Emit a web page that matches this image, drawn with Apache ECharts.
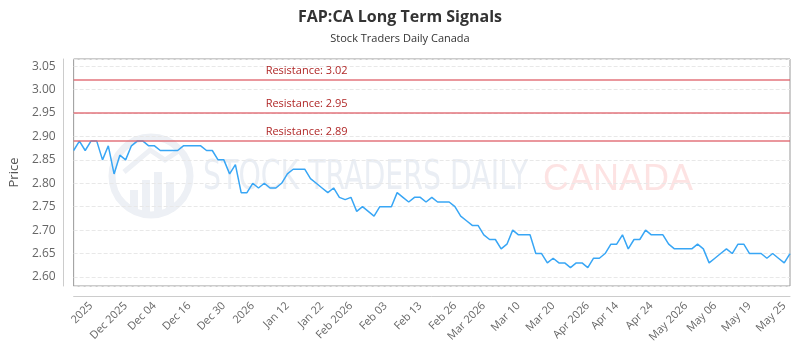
<!DOCTYPE html>
<html style="height: 100%">
    <head>
        <meta charset="utf-8">
    </head>
    <body style="height: 100%; margin: 0">
        <div id="container" style="width: 800px; height: 350px"></div>

        <script type="text/javascript" src="https://cdn.jsdelivr.net/npm/echarts@6/dist/echarts.min.js"></script>
        <script type="text/javascript">
var dom = document.getElementById("container");
var myChart = echarts.init(dom);

// closing prices, one per trading session
var prices = [
    2.87, 2.89, 2.87, 2.89, 2.89, 2.85, 2.88, 2.82, 2.86, 2.85,
    2.88, 2.89, 2.89, 2.88, 2.88, 2.87, 2.87, 2.87, 2.87, 2.88,
    2.88, 2.88, 2.88, 2.87, 2.87, 2.85, 2.85, 2.82, 2.84, 2.78,
    2.78, 2.80, 2.79, 2.80, 2.79, 2.79, 2.80, 2.82, 2.83, 2.83,
    2.83, 2.81, 2.80, 2.79, 2.78, 2.79, 2.77, 2.765, 2.77, 2.74,
    2.75, 2.74, 2.73, 2.75, 2.75, 2.75, 2.78, 2.77, 2.76, 2.77,
    2.77, 2.76, 2.77, 2.76, 2.76, 2.76, 2.75, 2.73, 2.72, 2.71,
    2.71, 2.69, 2.68, 2.68, 2.66, 2.67, 2.70, 2.69, 2.69, 2.69,
    2.65, 2.65, 2.63, 2.64, 2.63, 2.63, 2.62, 2.63, 2.63, 2.62,
    2.64, 2.64, 2.65, 2.67, 2.67, 2.69, 2.66, 2.68, 2.68, 2.70,
    2.69, 2.69, 2.69, 2.67, 2.66, 2.66, 2.66, 2.66, 2.67, 2.66,
    2.63, 2.64, 2.65, 2.66, 2.65, 2.67, 2.67, 2.65, 2.65, 2.65,
    2.64, 2.65, 2.64, 2.63, 2.65
];

// labelled sessions on the date axis
var tickLabels = ['2025', 'Dec 2025', 'Dec 04', 'Dec 16', 'Dec 30', '2026', 'Jan 12', 'Jan 22',
    'Feb 2026', 'Feb 03', 'Feb 13', 'Feb 26', 'Mar 2026', 'Mar 10', 'Mar 20', 'Apr 2026',
    'Apr 14', 'Apr 24', 'May 2026', 'May 06', 'May 19', 'May 25'];
var tickIndex = [3, 9, 14, 20, 26, 31, 37, 43, 48, 54, 60, 66, 71, 77, 83, 89, 94, 100, 106, 111, 117, 123];

var resistances = [3.02, 2.95, 2.89];

var labelAt = {};
tickIndex.forEach(function (idx, k) { labelAt[idx] = tickLabels[k]; });
var categories = prices.map(function (p, i) { return String(i); });

var font = 'Open Sans';

var option = {
    animation: false,
    title: {
        text: 'FAP:CA Long Term Signals',
        subtext: 'Stock Traders Daily Canada',
        left: 'center',
        top: 4,
        itemGap: 8,
        textStyle: { fontFamily: font, fontSize: 16, fontWeight: 'bold', color: '#333' },
        subtextStyle: { fontFamily: font, fontSize: 11, color: '#333' }
    },
    grid: {
        left: 70,
        right: 10,
        top: 59,
        bottom: 64,
        show: true,
        borderColor: '#999',
        borderWidth: 1
    },
    graphic: [
        {
            type: 'circle',
            shape: { cx: 151, cy: 176, r: 39 },
            style: { fill: 'none', stroke: '#edf0f5', lineWidth: 7 }
        },
        {
            type: 'polyline',
            shape: { points: [[124, 172], [150, 150], [165, 160], [180, 150]] },
            style: { fill: 'none', stroke: '#edf0f5', lineWidth: 5 }
        },
        { type: 'rect', shape: { x: 130, y: 190, width: 8, height: 22 }, style: { fill: '#edf0f5' } },
        { type: 'rect', shape: { x: 142, y: 180, width: 8, height: 32 }, style: { fill: '#edf0f5' } },
        { type: 'rect', shape: { x: 154, y: 172, width: 8, height: 40 }, style: { fill: '#edf0f5' } },
        { type: 'rect', shape: { x: 166, y: 182, width: 8, height: 30 }, style: { fill: '#edf0f5' } },
        {
            type: 'text',
            x: 203,
            y: 178,
            scaleX: 0.77,
            style: {
                text: 'STOCK TRADERS DAILY',
                fontFamily: 'DejaVu Sans Condensed',
                fontSize: 41,
                fill: '#eaeef4',
                verticalAlign: 'middle'
            }
        },
        {
            type: 'text',
            x: 543,
            y: 180,
            style: {
                text: 'CANADA',
                fontFamily: 'Liberation Sans',
                fontSize: 36,
                fill: '#fde3e3',
                verticalAlign: 'middle'
            }
        }
    ],
    xAxis: {
        type: 'category',
        data: categories,
        boundaryGap: false,
        offset: 10,
        axisLine: { lineStyle: { color: '#ccc' } },
        axisTick: { show: false },
        splitLine: { show: false },
        axisLabel: {
            rotate: 45,
            fontFamily: font,
            fontSize: 11,
            color: '#666',
            margin: 8,
            interval: function (index) { return labelAt[index] !== undefined; },
            formatter: function (value, index) { return labelAt[index] || ''; }
        }
    },
    yAxis: {
        type: 'value',
        min: Math.min.apply(null, prices) * 0.985,
        max: Math.max.apply(null, resistances) * 1.015,
        splitNumber: 10,
        offset: 10,
        name: 'Price',
        nameLocation: 'middle',
        nameGap: 38,
        nameTextStyle: { fontFamily: font, fontSize: 13, color: '#555' },
        axisLine: { show: true, lineStyle: { color: '#ccc' } },
        axisTick: { show: false },
        splitLine: { lineStyle: { color: '#e8e8e8', type: 'dashed' } },
        axisLabel: {
            fontFamily: font,
            fontSize: 12,
            color: '#666',
            showMinLabel: false,
            showMaxLabel: false,
            formatter: function (v) { return v.toFixed(2); }
        }
    },
    series: [{
        type: 'line',
        data: prices,
        showSymbol: false,
        symbol: 'none',
        lineStyle: { color: '#38a6f5', width: 1.5 },
        itemStyle: { color: '#38a6f5' },
        markLine: {
            silent: true,
            symbol: 'none',
            lineStyle: { color: 'rgba(222, 95, 105, 0.65)', width: 2, type: 'solid' },
            label: {
                position: 'insideStartTop',
                distance: [192, 4],
                fontFamily: font,
                fontSize: 11,
                color: '#b02828'
            },
            data: resistances.map(function (r) {
                return { yAxis: r, label: { formatter: 'Resistance: ' + r.toFixed(2) } };
            })
        }
    }]
};

if (option && typeof option === 'object') {
    myChart.setOption(option);
}
        </script>
    </body>
</html>
